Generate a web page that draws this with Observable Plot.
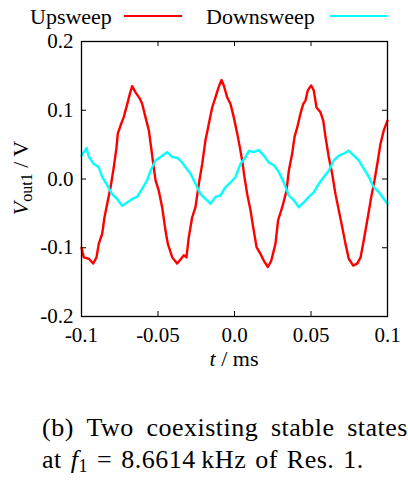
<!DOCTYPE html>
<html>
<head>
<meta charset="utf-8">
<script src="https://cdn.jsdelivr.net/npm/d3@7"></script>
<script src="https://cdn.jsdelivr.net/npm/@observablehq/plot@0.6"></script>
<style>
  html, body { margin: 0; padding: 0; background: #fff; }
  #wrap { position: relative; width: 408px; height: 482px; overflow: hidden; font-family: "Liberation Serif", serif; color: #000; }
  #chart { position: absolute; left: 0; top: 0; }
  #over { position: absolute; left: 0; top: 0; pointer-events: none; }
  #caption { position: absolute; left: 42px; top: 412px; width: 366px; font-size: 26px; line-height: 32px; letter-spacing: 0.5px; }
  #caption .l1 { white-space: nowrap; display: flex; justify-content: space-between; }
  #caption .l2 { white-space: nowrap; word-spacing: 2px; }
</style>
</head>
<body>
<div id="wrap">
  <div id="chart"></div>
  <svg id="over" width="408" height="482"></svg>
  <div id="caption">
    <div class="l1"><span>(b)</span><span>Two</span><span>coexisting</span><span>stable</span><span>states</span></div>
    <div class="l2">at <i>f</i><sub style="font-size:18px;vertical-align:-4px">1</sub> = 8.6614&#8201;kHz of Res. 1.</div>
  </div>
</div>
<script>
// ---- data ----
const seriesNames = ["Upsweep", "Downsweep"];
const seriesColors = ["#ff0000", "#00ffff"];

const upT = [-0.1,-0.0985,-0.0952,-0.0924,-0.0902,-0.0887,-0.0865,-0.085,-0.0832,-0.081,-0.0789,-0.0771,-0.0763,-0.0741,-0.0724,-0.0701,-0.0684,-0.0669,-0.0647,-0.0619,-0.0603,-0.0582,-0.056,-0.0545,-0.0531,-0.0516,-0.0495,-0.0473,-0.0451,-0.0436,-0.0407,-0.0375,-0.0353,-0.0331,-0.0314,-0.0299,-0.0277,-0.0255,-0.0233,-0.0211,-0.019,-0.0168,-0.0146,-0.0124,-0.0103,-0.0085,-0.007,-0.0048,-0.0026,-0.0005,0.0018,0.0035,0.005,0.0065,0.0083,0.0105,0.0122,0.0144,0.017,0.0192,0.0218,0.024,0.0268,0.0285,0.0312,0.034,0.0355,0.0377,0.0392,0.041,0.0431,0.0449,0.0464,0.0479,0.0501,0.0518,0.0536,0.0562,0.058,0.0595,0.0616,0.0638,0.066,0.0682,0.0704,0.0725,0.0747,0.0776,0.0802,0.0824,0.0845,0.0871,0.0894,0.0915,0.0937,0.0954,0.0976,0.1];
const upV = [-0.100,-0.114,-0.116,-0.123,-0.114,-0.094,-0.080,-0.056,-0.036,-0.012,0.017,0.046,0.066,0.080,0.090,0.109,0.124,0.135,0.126,0.117,0.109,0.090,0.071,0.046,0.022,-0.002,-0.017,-0.041,-0.075,-0.094,-0.114,-0.123,-0.117,-0.111,-0.114,-0.085,-0.056,-0.041,-0.007,0.022,0.056,0.080,0.104,0.119,0.134,0.144,0.136,0.119,0.109,0.090,0.066,0.046,0.027,0.003,-0.022,-0.046,-0.070,-0.099,-0.109,-0.119,-0.128,-0.119,-0.094,-0.060,-0.041,-0.017,0.012,0.037,0.061,0.075,0.095,0.109,0.114,0.129,0.136,0.129,0.104,0.097,0.085,0.061,0.032,0.008,-0.022,-0.046,-0.070,-0.094,-0.116,-0.126,-0.123,-0.114,-0.089,-0.056,-0.026,-0.002,0.027,0.051,0.071,0.085];

const downT = [-0.1,-0.0967,-0.0952,-0.092,-0.0887,-0.0865,-0.0832,-0.08,-0.0767,-0.0734,-0.0701,-0.0669,-0.0636,-0.0603,-0.0571,-0.0549,-0.0516,-0.0484,-0.044,-0.0407,-0.0375,-0.0342,-0.032,-0.0288,-0.0255,-0.0222,-0.019,-0.0157,-0.0124,-0.0092,-0.0059,-0.0026,0.0007,0.0039,0.0072,0.0094,0.0126,0.0159,0.0192,0.0224,0.0257,0.029,0.0322,0.0355,0.0388,0.042,0.0453,0.0486,0.0518,0.0551,0.0584,0.0616,0.0649,0.0682,0.0714,0.0747,0.078,0.0812,0.0845,0.0878,0.091,0.0943,0.0976,0.1];
const downV = [0.034,0.045,0.032,0.022,0.017,0.003,-0.009,-0.022,-0.029,-0.039,-0.034,-0.029,-0.026,-0.014,-0.002,0.012,0.027,0.032,0.039,0.032,0.031,0.024,0.017,0.008,-0.007,-0.022,-0.029,-0.036,-0.026,-0.024,-0.012,-0.005,0.003,0.022,0.032,0.041,0.039,0.042,0.034,0.024,0.020,0.010,-0.005,-0.024,-0.031,-0.041,-0.034,-0.026,-0.019,-0.007,0.003,0.012,0.027,0.034,0.037,0.041,0.034,0.027,0.015,0.003,-0.012,-0.019,-0.029,-0.036];

const xTicks = [-0.1, -0.05, 0, 0.05, 0.1];
const xTickLabels = ["-0.1", "-0.05", "0.0", "0.05", "0.1"];
const yTicks = [-0.2, -0.1, 0, 0.1, 0.2];
const yTickLabels = ["-0.2", "-0.1", "0.0", "0.1", "0.2"];

// ---- build ----
const up = upT.map((t, i) => ({t, v: upV[i]}));
const down = downT.map((t, i) => ({t, v: downV[i]}));

const W = 408, H = 372, mL = 81, mR = 21, mT = 41, mB = 56;
const pw = W - mL - mR, ph = H - mT - mB, tk = 5;

const chart = Plot.plot({
  width: W, height: H,
  marginLeft: mL, marginRight: mR, marginTop: mT, marginBottom: mB,
  style: {fontFamily: "Liberation Serif, serif", fontSize: "21px", color: "#000", background: "#fff"},
  x: {domain: [-0.1, 0.1]},
  y: {domain: [-0.2, 0.2]},
  marks: [
    Plot.line(up, {x: "t", y: "v", stroke: seriesColors[0], strokeWidth: 2.4}),
    Plot.line(down, {x: "t", y: "v", stroke: seriesColors[1], strokeWidth: 2.4}),
    Plot.tickX(xTicks, {x: d => d, insetBottom: ph - tk, stroke: "#000"}),
    Plot.tickX(xTicks, {x: d => d, insetTop: ph - tk, stroke: "#000"}),
    Plot.tickY(yTicks, {y: d => d, insetRight: pw - tk, stroke: "#000"}),
    Plot.tickY(yTicks, {y: d => d, insetLeft: pw - tk, stroke: "#000"}),
    Plot.axisX(xTicks, {tickSize: 0, tickPadding: 11, tickFormat: (d) => xTickLabels[xTicks.indexOf(d)], label: null}),
    Plot.axisY(yTicks, {tickSize: 0, tickPadding: 8, tickFormat: (d) => yTickLabels[yTicks.indexOf(d)], label: null}),
    Plot.frame({stroke: "#000", strokeWidth: 1.3})
  ]
});
document.getElementById("chart").appendChild(chart);

// ---- overlay: legend and axis titles ----
const o = d3.select("#over").style("font-family", "Liberation Serif, serif").style("font-size", "22px");
o.append("text").attr("x", 30).attr("y", 24).text(seriesNames[0]);
o.append("line").attr("x1", 124).attr("x2", 182).attr("y1", 16).attr("y2", 16).attr("stroke", seriesColors[0]).attr("stroke-width", 2);
o.append("text").attr("x", 206).attr("y", 24).text(seriesNames[1]);
o.append("line").attr("x1", 330).attr("x2", 387).attr("y1", 16).attr("y2", 16).attr("stroke", seriesColors[1]).attr("stroke-width", 2);

const yl = o.append("text").attr("transform", "translate(28,178) rotate(-90)").attr("text-anchor", "middle");
yl.append("tspan").attr("font-style", "italic").text("V");
yl.append("tspan").attr("font-size", "16px").attr("dy", 4).text("out1");
yl.append("tspan").attr("dy", -4).text(" / V");

const xl = o.append("text").attr("x", 234).attr("y", 366).attr("text-anchor", "middle");
xl.append("tspan").attr("font-style", "italic").text("t");
xl.append("tspan").text(" / ms");
</script>
</body>
</html>
